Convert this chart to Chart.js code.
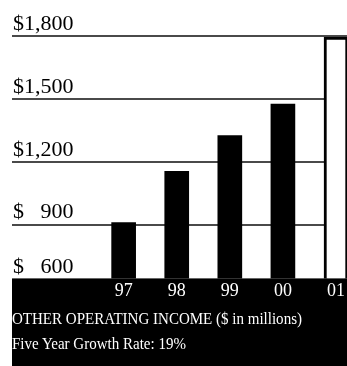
<!DOCTYPE html>
<html>
<head>
<meta charset="utf-8">
<script src="https://cdn.jsdelivr.net/npm/chart.js@4/dist/chart.umd.min.js"></script>
<style>
  html, body { margin: 0; padding: 0; background: #fff; }
  #wrap { position: relative; width: 347px; height: 366px; overflow: hidden; }
  #c { position: absolute; left: 0; top: 0; }
  .cap { position: absolute; left: 12px; color: #fff; font-family: "Liberation Serif", "Times New Roman", serif;
         font-size: 16px; line-height: 16px; white-space: pre; transform-origin: 0 0; }
</style>
</head>
<body>
<div id="wrap">
  <canvas id="c" width="347" height="366"></canvas>
  <div class="cap" id="t1" style="top:310.6px">OTHER OPERATING INCOME ($ in millions)</div>
  <div class="cap" id="t2" style="top:335.6px">Five Year Growth Rate: 19%</div>
</div>
<script>
// ---- data ----
const categories = ['97', '98', '99', '00', '01'];
const incomeValues = [910, 1155, 1325, 1475, 1795];
const yTickValues = [600, 900, 1200, 1500, 1800];
const yTickLabels = ['$   600', '$   900', '$1,200', '$1,500', '$1,800'];
const barFills = ['#000', '#000', '#000', '#000', '#fff'];
const barBorders = [0, 0, 0, 0, 3];

// condense caption text to reference widths
function fitWidth(id, target) {
  const el = document.getElementById(id);
  const w = el.getBoundingClientRect().width;
  el.style.transform = 'scaleX(' + (target / w) + ')';
}
fitWidth('t1', 290);
fitWidth('t2', 174);

// black band below the plot area (behind the category labels)
const blackPanel = {
  id: 'blackPanel',
  afterDatasetsDraw(chart) {
    const ctx = chart.ctx, a = chart.chartArea;
    ctx.save();
    ctx.fillStyle = '#000';
    ctx.fillRect(a.left, a.bottom, chart.width - a.left, chart.height - a.bottom);
    ctx.restore();
  }
};

const serif = '"Liberation Serif", "Times New Roman", serif';

new Chart(document.getElementById('c'), {
  type: 'bar',
  data: {
    datasets: [{
      data: incomeValues.map((v, i) => ({ x: i, y: v })),
      backgroundColor: barFills,
      borderColor: '#000',
      borderWidth: barBorders,
      borderSkipped: 'bottom',
      barThickness: 24
    }]
  },
  options: {
    responsive: false,
    animation: false,
    devicePixelRatio: 1,
    layout: { padding: { left: 10, right: 0, top: 36, bottom: 62 } },
    plugins: { legend: { display: false }, tooltip: { enabled: false } },
    scales: {
      x: {
        type: 'linear',
        offset: false,
        min: -2.103,
        max: 4.207,
        grid: { display: false, drawTicks: false, offset: false },
        border: { display: false },
        afterBuildTicks(scale) { scale.ticks = categories.map((c, i) => ({ value: i })); },
        ticks: {
          z: 1,
          autoSkip: false,
          maxRotation: 0,
          color: '#fff',
          padding: 2,
          font: { family: serif, size: 18 },
          callback: (v) => categories[v]
        }
      },
      y: {
        min: 643.8,
        max: 1800,
        grid: { color: '#4a4a4a', lineWidth: 2, drawTicks: false },
        border: { display: false },
        afterBuildTicks(scale) { scale.ticks = yTickValues.map(v => ({ value: v })); },
        ticks: {
          mirror: true,
          padding: 1,
          labelOffset: -12,
          color: '#000',
          font: (ctx) => ({ family: serif, size: 22, lineHeight: (ctx.tick && ctx.tick.value === yTickValues[0]) ? 0.73 : 1.2 }),
          callback: (v) => {
            const lbl = yTickLabels[yTickValues.indexOf(v)];
            // lowest label sits higher, clear of the black band
            return v === yTickValues[0] ? [lbl, ''] : lbl;
          }
        }
      }
    }
  },
  plugins: [blackPanel]
});
</script>
</body>
</html>
